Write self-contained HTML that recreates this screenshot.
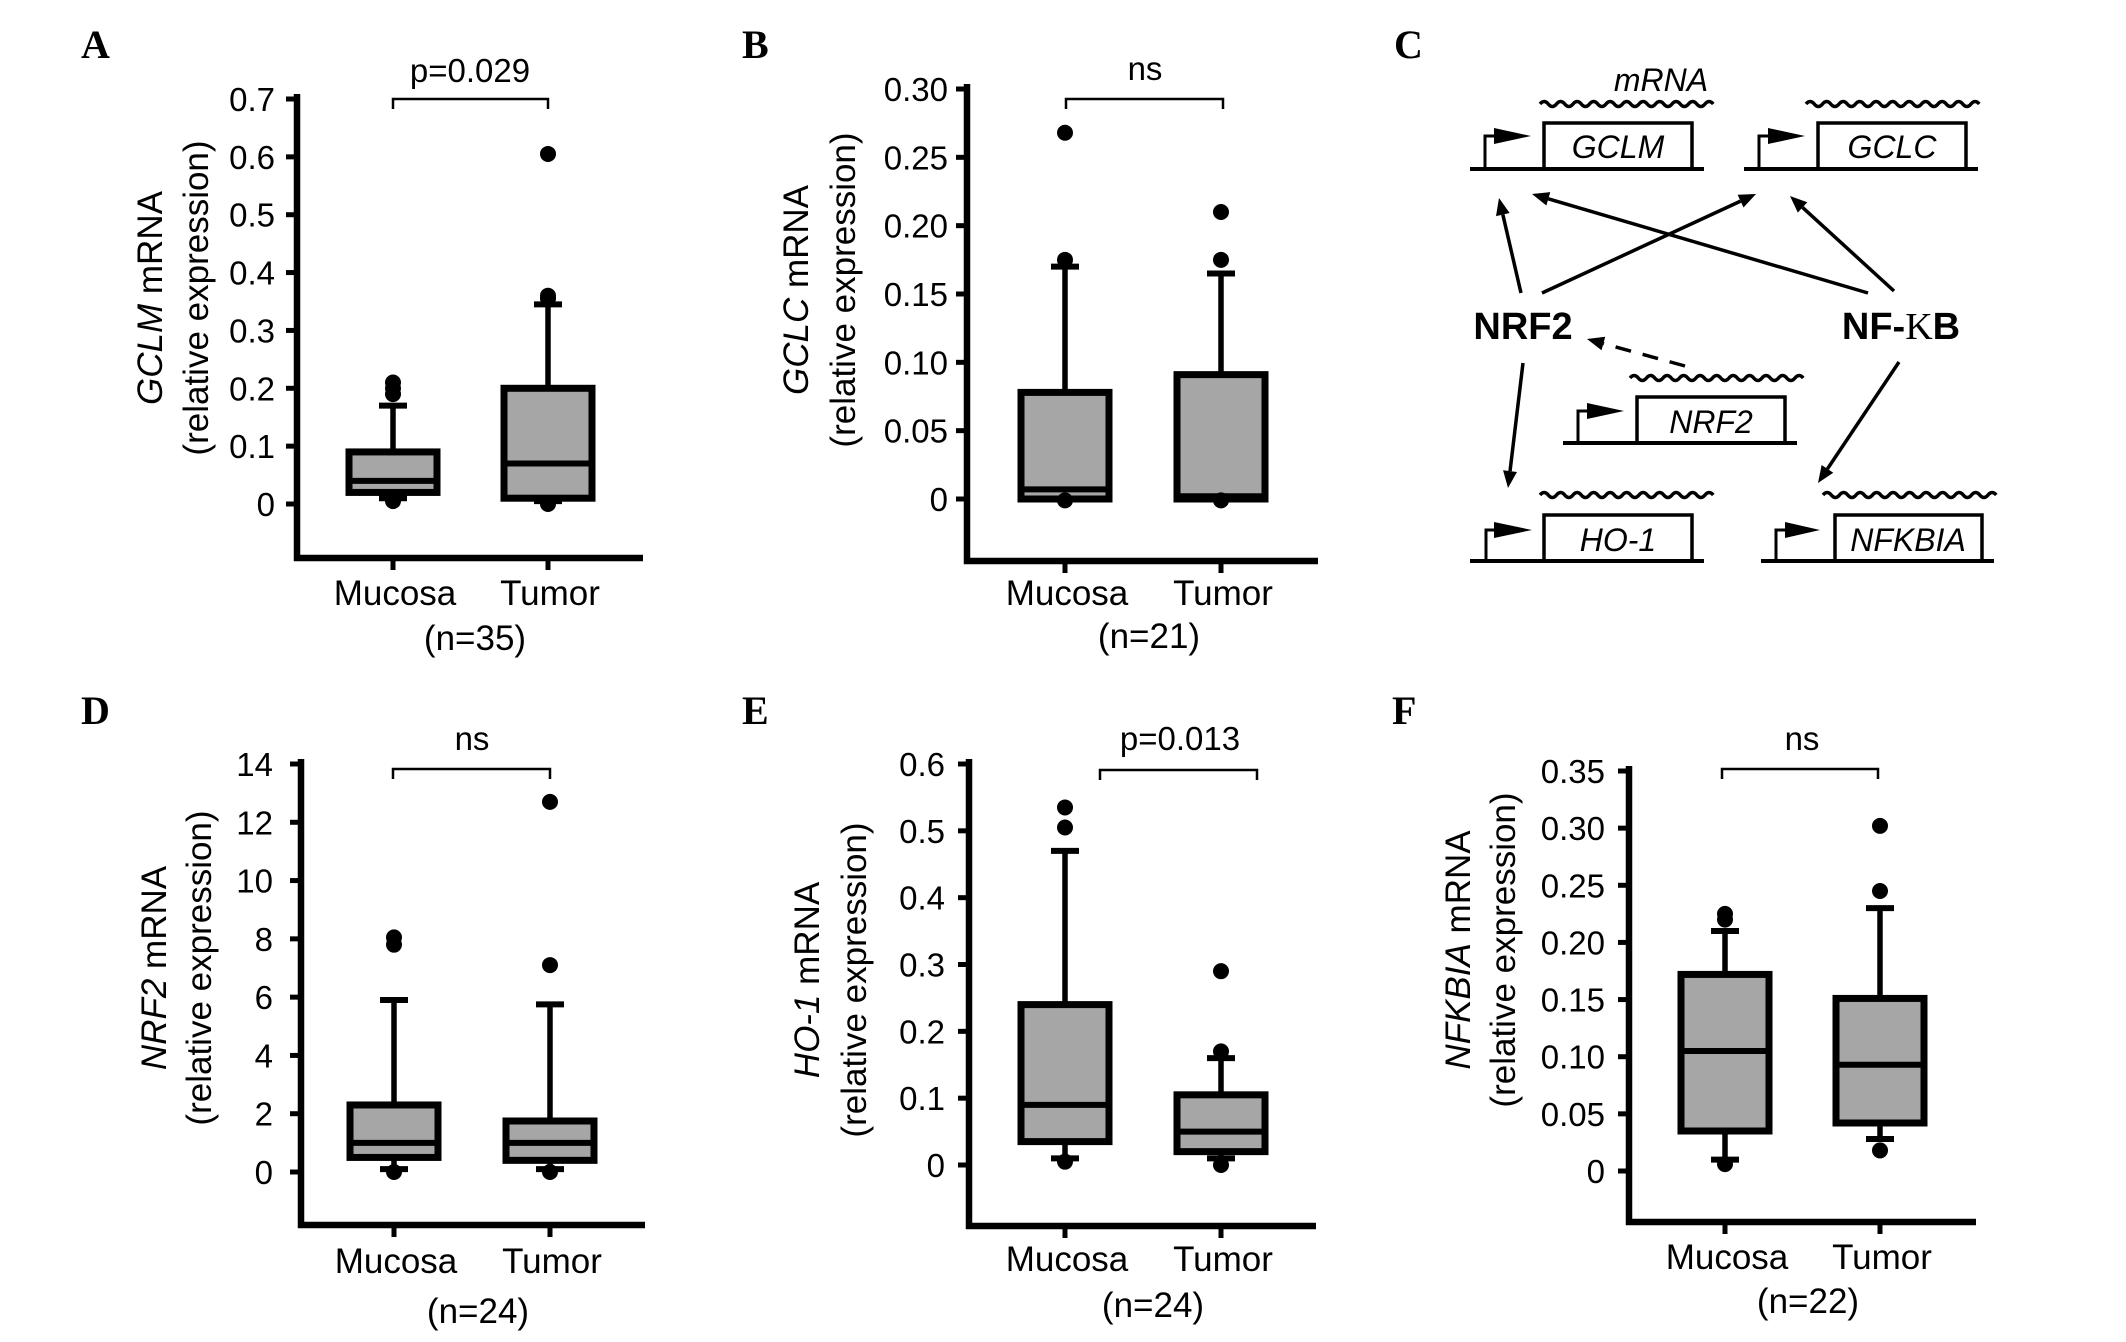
<!DOCTYPE html>
<html><head><meta charset="utf-8"><style>
html,body{margin:0;padding:0;background:#fff;}
svg{display:block;font-family:"Liberation Sans",Arial,sans-serif;}
</style></head><body>
<svg id="fig" width="2126" height="1342" viewBox="0 0 2126 1342" xmlns="http://www.w3.org/2000/svg">
<rect width="2126" height="1342" fill="#fff"/>
<g id="panelC" stroke="#000" fill="none">
  <text x="1394" y="58" font-family="Liberation Serif" font-weight="bold" font-size="40" fill="#000" stroke="none">C</text>
  <text x="1661" y="91" text-anchor="middle" font-style="italic" font-size="32" fill="#000" stroke="none">mRNA</text>
  <g>
    <line x1="1470" y1="169" x2="1704" y2="169" stroke-width="4"/>
    <rect x="1544" y="123" width="148" height="46" stroke-width="3.5"/>
    <polyline points="1485,169 1485,136 1500,136" stroke-width="3"/>
    <polygon points="1494,128 1531,136 1494,144" fill="#000" stroke="none"/>
    <text x="1618" y="158" text-anchor="middle" font-style="italic" font-size="32" fill="#000" stroke="none">GCLM</text>
  </g>
  <g>
    <line x1="1744" y1="169" x2="1978" y2="169" stroke-width="4"/>
    <rect x="1818" y="123" width="148" height="46" stroke-width="3.5"/>
    <polyline points="1759,169 1759,136 1774,136" stroke-width="3"/>
    <polygon points="1768,128 1805,136 1768,144" fill="#000" stroke="none"/>
    <text x="1892" y="158" text-anchor="middle" font-style="italic" font-size="32" fill="#000" stroke="none">GCLC</text>
  </g>
  <g>
    <line x1="1563" y1="443" x2="1797" y2="443" stroke-width="4"/>
    <rect x="1637" y="397" width="148" height="46" stroke-width="3.5"/>
    <polyline points="1578,443 1578,411 1593,411" stroke-width="3"/>
    <polygon points="1587,403 1624,411 1587,419" fill="#000" stroke="none"/>
    <text x="1711" y="433" text-anchor="middle" font-style="italic" font-size="32" fill="#000" stroke="none">NRF2</text>
  </g>
  <g>
    <line x1="1470" y1="561" x2="1704" y2="561" stroke-width="4"/>
    <rect x="1544" y="515" width="148" height="46" stroke-width="3.5"/>
    <polyline points="1486,561 1486,530 1501,530" stroke-width="3"/>
    <polygon points="1494,522 1532,530 1494,538" fill="#000" stroke="none"/>
    <text x="1618" y="551" text-anchor="middle" font-style="italic" font-size="32" fill="#000" stroke="none">HO-1</text>
  </g>
  <g>
    <line x1="1761" y1="561" x2="1994" y2="561" stroke-width="4"/>
    <rect x="1835" y="515" width="147" height="46" stroke-width="3.5"/>
    <polyline points="1776,561 1776,530 1791,530" stroke-width="3"/>
    <polygon points="1785,522 1820,530 1785,538" fill="#000" stroke="none"/>
    <text x="1908" y="551" text-anchor="middle" font-style="italic" font-size="32" fill="#000" stroke="none">NFKBIA</text>
  </g>
  <text x="1523" y="339" text-anchor="middle" font-weight="bold" font-size="38" fill="#000" stroke="none">NRF2</text>
  <text x="1901" y="339" text-anchor="middle" font-weight="bold" font-size="38" fill="#000" stroke="none">NF-<tspan font-family="Liberation Serif" font-weight="normal">K</tspan>B</text>
  <g id="waves"></g>
  <g id="arrows"></g>
</g>
<g id="charts"></g>
</svg>
<script>
const NS="http://www.w3.org/2000/svg";
const categories=["Mucosa","Tumor"];
// Panel A (GCLM)
const aTickValues=[0,0.1,0.2,0.3,0.4,0.5,0.6,0.7];
const aTickLabels=["0","0.1","0.2","0.3","0.4","0.5","0.6","0.7"];
const aBoxLow=[0.02,0.01];
const aBoxHigh=[0.09,0.2];
const aMedian=[0.04,0.07];
const aWhiskLow=[0.01,0.005];
const aWhiskHigh=[0.17,0.345];
const aOutliers=[[0.005,0.19,0.2,0.21],[0,0.355,0.36,0.605]];
// Panel B (GCLC)
const bTickValues=[0,0.05,0.10,0.15,0.20,0.25,0.30];
const bTickLabels=["0","0.05","0.10","0.15","0.20","0.25","0.30"];
const bBoxLow=[0,0];
const bBoxHigh=[0.078,0.091];
const bMedian=[0.007,0.002];
const bWhiskLow=[0,0];
const bWhiskHigh=[0.17,0.165];
const bOutliers=[[-0.001,0.175,0.268],[-0.001,0.175,0.21]];
// Panel D (NRF2)
const dTickValues=[0,2,4,6,8,10,12,14];
const dTickLabels=["0","2","4","6","8","10","12","14"];
const dBoxLow=[0.5,0.4];
const dBoxHigh=[2.3,1.75];
const dMedian=[1.0,1.0];
const dWhiskLow=[0.1,0.1];
const dWhiskHigh=[5.9,5.75];
const dOutliers=[[0,7.8,8.05],[0,7.1,12.7]];
// Panel E (HO-1)
const eTickValues=[0,0.1,0.2,0.3,0.4,0.5,0.6];
const eTickLabels=["0","0.1","0.2","0.3","0.4","0.5","0.6"];
const eBoxLow=[0.035,0.02];
const eBoxHigh=[0.24,0.105];
const eMedian=[0.09,0.05];
const eWhiskLow=[0.01,0.01];
const eWhiskHigh=[0.47,0.16];
const eOutliers=[[0.005,0.505,0.535],[0,0.17,0.29]];
// Panel F (NFKBIA)
const fTickValues=[0,0.05,0.10,0.15,0.20,0.25,0.30,0.35];
const fTickLabels=["0","0.05","0.10","0.15","0.20","0.25","0.30","0.35"];
const fBoxLow=[0.035,0.042];
const fBoxHigh=[0.172,0.151];
const fMedian=[0.105,0.093];
const fWhiskLow=[0.01,0.028];
const fWhiskHigh=[0.21,0.23];
const fOutliers=[[0.006,0.22,0.225],[0.018,0.245,0.302]];

function mk(tag,attrs,parent){const e=document.createElementNS(NS,tag);for(const k in attrs)e.setAttribute(k,attrs[k]);if(parent)parent.appendChild(e);return e;}
const charts=document.getElementById('charts');

function panel(p,d){
  const g=mk('g',{},charts);
  
  
  const vmax=d.ticks[d.ticks.length-1];
  const y=v=>p.y0-(v/vmax)*(p.y0-p.yTop);
  const lt=mk('text',{x:p.lx,y:p.ly,'font-family':'Liberation Serif','font-weight':'bold','font-size':40},g);
  lt.textContent=p.letter;
  
  
  const ya=mk('line',{x1:p.ax,y1:p.yTop-5,x2:p.ax,y2:p.xAxisY+3,stroke:'#000','stroke-width':6.5},g);
  
  
  const xa=mk('line',{x1:p.ax-3,y1:p.xAxisY,x2:p.xEnd,y2:p.xAxisY,stroke:'#000','stroke-width':6.5},g);
  
  
  d.ticks.forEach((v,i)=>{
    const ty=y(v);
    mk('line',{x1:p.ax-11,y1:ty,x2:p.ax,y2:ty,stroke:'#000','stroke-width':5},g);
    const t=mk('text',{x:p.labelRight,y:ty+12,'text-anchor':'end','font-size':33},g);
    t.textContent=d.labels[i];
    
    
  });
  const tx1=p.tx[0]+12, tx2=p.tx[1]+12;
  const t1=mk('text',{x:tx1,y:p.tcy,'text-anchor':'middle','font-size':35,transform:`rotate(-90 ${tx1} ${p.tcy})`},g);
  const ts=mk('tspan',{'font-style':'italic'},t1);ts.textContent=p.gene;
  const ts2=mk('tspan',{},t1);ts2.textContent=' mRNA';
  
  
  const t2=mk('text',{x:tx2,y:p.tcy,'text-anchor':'middle','font-size':35,transform:`rotate(-90 ${tx2} ${p.tcy})`},g);
  t2.textContent='(relative expression)';
  
  
  const br=mk('polyline',{points:`${p.bx[0]},${p.by+10} ${p.bx[0]},${p.by} ${p.bx[1]},${p.by} ${p.bx[1]},${p.by+10}`,fill:'none',stroke:'#000','stroke-width':2.5},g);
  
  
  const st=mk('text',{x:p.sx,y:p.sy,'text-anchor':'middle','font-size':33},g);
  st.textContent=p.stat;
  
  
  categories.forEach((c,i)=>{
    const cx=p.cats[i];
    mk('line',{x1:cx,y1:p.xAxisY,x2:cx,y2:p.xAxisY+12,stroke:'#000','stroke-width':5},g);
    const cl=mk('text',{x:cx+2,y:p.catY,'text-anchor':'middle','font-size':35},g);
    cl.textContent=c;
    
    
    const bg=mk('g',{},g);
    
    
    mk('line',{x1:cx,y1:y(d.whiskHigh[i]),x2:cx,y2:y(d.high[i]),stroke:'#000','stroke-width':5.5},bg);
    mk('line',{x1:cx-14,y1:y(d.whiskHigh[i]),x2:cx+14,y2:y(d.whiskHigh[i]),stroke:'#000','stroke-width':6},bg);
    mk('line',{x1:cx,y1:y(d.low[i]),x2:cx,y2:y(d.whiskLow[i]),stroke:'#000','stroke-width':5.5},bg);
    mk('line',{x1:cx-14,y1:y(d.whiskLow[i]),x2:cx+14,y2:y(d.whiskLow[i]),stroke:'#000','stroke-width':6},bg);
    mk('rect',{x:cx-44,y:y(d.high[i]),width:88,height:Math.max(0,y(d.low[i])-y(d.high[i])),fill:'#a6a6a6',stroke:'#000','stroke-width':7},bg);
    mk('line',{x1:cx-44,y1:y(d.median[i]),x2:cx+44,y2:y(d.median[i]),stroke:'#000','stroke-width':6},bg);
    d.out[i].forEach(v=>{
      const o=mk('circle',{cx:cx,cy:y(v),r:8,fill:'#000'},bg);
      
      
    });
  });
  const n=mk('text',{x:p.nx,y:p.nY,'text-anchor':'middle','font-size':35},g);
  n.textContent=p.n;
  
  
}

panel({id:'a',letter:'A',lx:81,ly:58,ax:297,y0:504,yTop:99,xAxisY:558,xEnd:643,cats:[393,548],labelRight:275,tx:[150,196],tcy:298,gene:'GCLM',bx:[393,548],by:99,stat:'p=0.029',sx:470,sy:82,catY:605,n:'(n=35)',nx:475,nY:650},
  {ticks:aTickValues,labels:aTickLabels,low:aBoxLow,high:aBoxHigh,median:aMedian,whiskLow:aWhiskLow,whiskHigh:aWhiskHigh,out:aOutliers});
panel({id:'b',letter:'B',lx:742,ly:58,ax:967,y0:499,yTop:89,xAxisY:561,xEnd:1318,cats:[1065,1221],labelRight:948,tx:[796,843],tcy:290,gene:'GCLC',bx:[1066,1223],by:99,stat:'ns',sx:1145,sy:80,catY:605,n:'(n=21)',nx:1149,nY:648},
  {ticks:bTickValues,labels:bTickLabels,low:bBoxLow,high:bBoxHigh,median:bMedian,whiskLow:bWhiskLow,whiskHigh:bWhiskHigh,out:bOutliers});
panel({id:'d',letter:'D',lx:81,ly:724,ax:301,y0:1172,yTop:764,xAxisY:1225,xEnd:645,cats:[394,550],labelRight:273,tx:[154,199],tcy:968,gene:'NRF2',bx:[393,550],by:769,stat:'ns',sx:472,sy:750,catY:1273,n:'(n=24)',nx:478,nY:1323},
  {ticks:dTickValues,labels:dTickLabels,low:dBoxLow,high:dBoxHigh,median:dMedian,whiskLow:dWhiskLow,whiskHigh:dWhiskHigh,out:dOutliers});
panel({id:'e',letter:'E',lx:742,ly:724,ax:969,y0:1165,yTop:764,xAxisY:1226,xEnd:1316,cats:[1065,1221],labelRight:945,tx:[807,854],tcy:980,gene:'HO-1',bx:[1100,1257],by:770,stat:'p=0.013',sx:1180,sy:750,catY:1271,n:'(n=24)',nx:1153,nY:1317},
  {ticks:eTickValues,labels:eTickLabels,low:eBoxLow,high:eBoxHigh,median:eMedian,whiskLow:eWhiskLow,whiskHigh:eWhiskHigh,out:eOutliers});
panel({id:'f',letter:'F',lx:1392,ly:724,ax:1629,y0:1171,yTop:771,xAxisY:1222,xEnd:1976,cats:[1725,1880],labelRight:1605,tx:[1458,1503],tcy:950,gene:'NFKBIA',bx:[1722,1878],by:769,stat:'ns',sx:1802,sy:750,catY:1269,n:'(n=22)',nx:1808,nY:1313},
  {ticks:fTickValues,labels:fTickLabels,low:fBoxLow,high:fBoxHigh,median:fMedian,whiskLow:fWhiskLow,whiskHigh:fWhiskHigh,out:fOutliers});

const waves=document.getElementById('waves');
[[1540,1713,104],[1806,1980,104],[1630,1804,378],[1540,1713,495],[1823,1997,495]].forEach(w=>{
  let dd=`M${w[0]},${w[2]}`;const per=16.5;let x=w[0];let up=true;
  while(x+per/2<=w[1]+1){dd+=` Q${x+per/4},${w[2]+(up?-5:5)} ${x+per/2},${w[2]}`;x+=per/2;up=!up;}
  const p=mk('path',{d:dd,'stroke-width':3.5,fill:'none',stroke:'#000'},waves);
  
  
});
const arrows=document.getElementById('arrows');
[[1521,293,1499,198,0],[1542,293,1756,194,0],[1868,293,1532,194,0],[1894,291,1790,196,0],[1523,363,1508,488,0],[1899,362,1818,483,0],[1685,366,1587,339,1]].forEach(a=>{
  const [x1,y1,x2,y2,dash]=a;const L=Math.hypot(x2-x1,y2-y1);const ux=(x2-x1)/L,uy=(y2-y1)/L;
  const hl=17,hw=7;const bx=x2-ux*hl,by=y2-uy*hl;
  const ln=mk('line',{x1:x1,y1:y1,x2:bx,y2:by,stroke:'#000','stroke-width':3.5},arrows);
  if(dash)ln.setAttribute('stroke-dasharray','16 12');
  
  
  mk('polygon',{points:`${x2},${y2} ${bx-uy*hw},${by+ux*hw} ${bx+uy*hw},${by-ux*hw}`,fill:'#000',stroke:'none'},arrows);
});
</script>
</body></html>
